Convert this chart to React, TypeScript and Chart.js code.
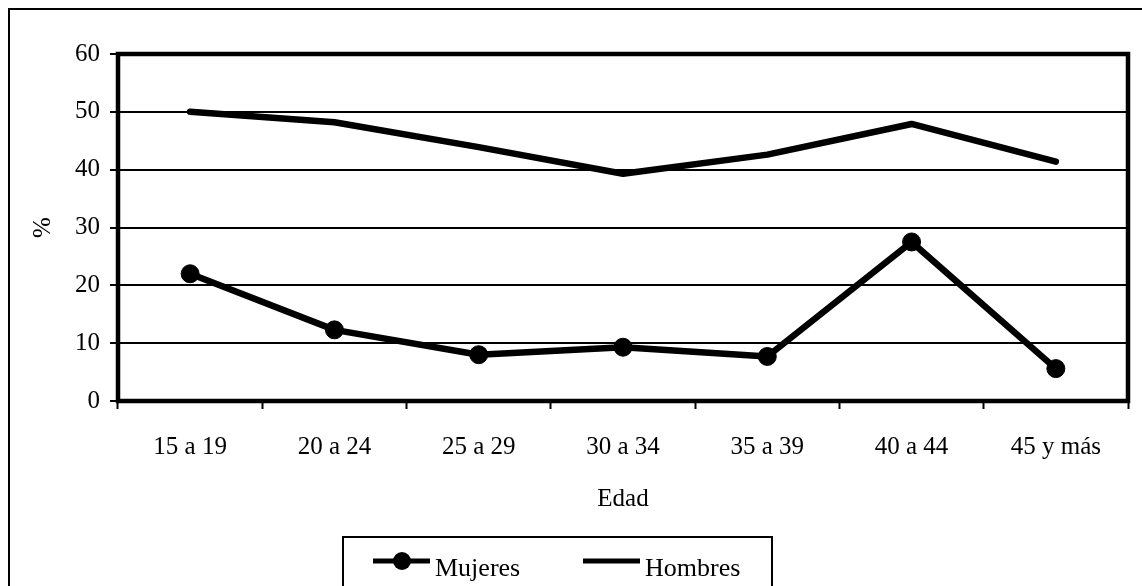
import React, { useEffect, useRef } from "react";
import { Chart, registerables } from "chart.js";

Chart.register(...registerables);

const categories = ["15 a 19", "20 a 24", "25 a 29", "30 a 34", "35 a 39", "40 a 44", "45 y más"];
const mujeres = [22, 12.3, 8, 9.3, 7.7, 27.5, 5.6];
const hombres = [50, 48.2, 43.9, 39.3, 42.6, 47.9, 41.4];
const yTicks = [0, 10, 20, 30, 40, 50, 60];

const FONT = '"Liberation Serif", "Times New Roman", serif';

// Outer page frame (top and left edges) plus the thick frame around the plot area
const framePlugin = {
  id: "plotFrame",
  beforeDraw(chart: any) {
    const { ctx } = chart;
    ctx.save();
    ctx.fillStyle = "#fff";
    ctx.fillRect(0, 0, chart.width, chart.height);
    ctx.fillStyle = "#000";
    ctx.fillRect(8, 8, chart.width - 8, 2);
    ctx.fillRect(8, 8, 2, chart.height - 8);
    ctx.restore();
  },
  beforeDatasetsDraw(chart: any) {
    const { ctx, chartArea } = chart;
    ctx.save();
    ctx.strokeStyle = "#000";
    ctx.lineWidth = 4.5;
    ctx.strokeRect(chartArea.left, chartArea.top, chartArea.right - chartArea.left, chartArea.bottom - chartArea.top);
    ctx.restore();
  },
};

// Boxed legend below the axis title: line sample (with marker when the series has one) and label
const boxLegendPlugin = {
  id: "boxLegend",
  afterDraw(chart: any) {
    const { ctx } = chart;
    ctx.save();
    ctx.strokeStyle = "#000";
    ctx.lineWidth = 2;
    ctx.strokeRect(343, 537, 429, 80);
    const starts = [373, 583];
    const lineY = 561;
    chart.data.datasets.forEach((ds: any, i: number) => {
      const x0 = starts[i];
      ctx.strokeStyle = ds.borderColor;
      ctx.lineWidth = 5;
      ctx.beginPath();
      ctx.moveTo(x0, lineY);
      ctx.lineTo(x0 + 57, lineY);
      ctx.stroke();
      if (ds.pointRadius > 0) {
        ctx.fillStyle = ds.pointBackgroundColor;
        ctx.beginPath();
        ctx.arc(x0 + 29, lineY, 9, 0, Math.PI * 2);
        ctx.fill();
      }
      ctx.fillStyle = "#000";
      ctx.font = `26px ${FONT}`;
      ctx.textBaseline = "alphabetic";
      ctx.textAlign = "left";
      ctx.fillText(ds.label, x0 + 62, 576);
    });
    ctx.restore();
  },
};

export default function App() {
  const canvasRef = useRef<HTMLCanvasElement | null>(null);

  useEffect(() => {
    if (!canvasRef.current) return;
    const chart = new Chart(canvasRef.current, {
      type: "line",
      data: {
        labels: categories,
        datasets: [
          {
            label: "Mujeres",
            data: mujeres,
            borderColor: "#000",
            backgroundColor: "#000",
            pointBackgroundColor: "#000",
            pointBorderColor: "#000",
            borderWidth: 6.5,
            pointRadius: 9,
            pointBorderWidth: 1,
            borderCapStyle: "round",
            borderJoinStyle: "round",
            tension: 0,
          },
          {
            label: "Hombres",
            data: hombres,
            borderColor: "#000",
            backgroundColor: "#000",
            pointBackgroundColor: "#000",
            borderWidth: 6.5,
            pointRadius: 0,
            borderCapStyle: "round",
            borderJoinStyle: "round",
            tension: 0,
          },
        ],
      },
      options: {
        animation: false,
        responsive: false,
        maintainAspectRatio: false,
        layout: { padding: { left: 20, top: 54, right: 14, bottom: 65 } },
        plugins: {
          legend: { display: false },
          tooltip: { enabled: false },
        },
        scales: {
          x: {
            type: "category",
            offset: true,
            afterFit(scale: any) {
              scale.height = 120;
            },
            grid: {
              offset: true,
              drawOnChartArea: false,
              drawTicks: true,
              tickLength: 8,
              tickWidth: 2,
              tickColor: "#000",
            },
            border: { display: false },
            ticks: {
              color: "#000",
              padding: 23,
              font: { family: FONT, size: 25 },
              maxRotation: 0,
            },
            title: {
              display: true,
              text: "Edad",
              color: "#000",
              font: { family: FONT, size: 25 },
              padding: { top: 0, bottom: 7 },
            },
          },
          y: {
            min: 0,
            max: 60,
            afterFit(scale: any) {
              scale.width = 98;
            },
            afterBuildTicks(scale: any) {
              scale.ticks = yTicks.map((v) => ({ value: v }));
            },
            grid: {
              color: "#000",
              lineWidth: 2,
              drawTicks: true,
              tickLength: 8,
              tickWidth: 2,
              tickColor: "#000",
            },
            border: { display: false },
            ticks: {
              color: "#000",
              padding: 10,
              font: { family: FONT, size: 25 },
            },
            title: {
              display: true,
              text: "%",
              color: "#000",
              font: { family: FONT, size: 25 },
              padding: { top: 8, bottom: 0 },
            },
          },
        },
      },
      plugins: [framePlugin, boxLegendPlugin],
    } as any);
    return () => chart.destroy();
  }, []);

  return (
    <div style={{ position: "fixed", left: 0, top: 0, width: 1142, height: 586, overflow: "hidden" }}>
      <canvas ref={canvasRef} width={1142} height={586} style={{ display: "block" }} />
    </div>
  );
}
